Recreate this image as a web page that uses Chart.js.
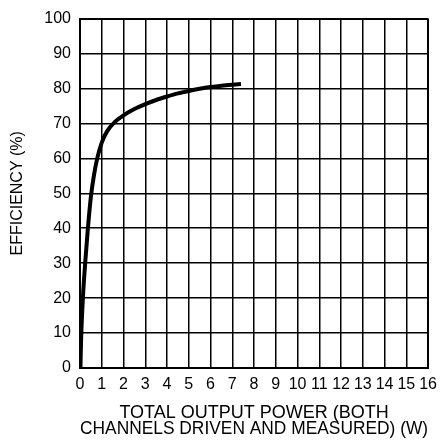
<!DOCTYPE html>
<html>
<head>
<meta charset="utf-8">
<script src="https://cdn.jsdelivr.net/npm/chart.js@4/dist/chart.umd.min.js"></script>
<style>
  html, body { margin: 0; padding: 0; background: #fff; }
  #wrap { width: 444px; height: 443px; }
</style>
</head>
<body>
<div id="wrap"><canvas id="chart" width="444" height="443"></canvas></div>
<script>
// efficiency curve
const outputPower = [0.02, 0.05, 0.1, 0.15, 0.25, 0.35, 0.5, 0.65, 0.8, 1.0, 1.25, 1.6, 2.0, 2.5, 3.0, 3.5, 4.0, 4.5, 5.0, 5.5, 6.0, 6.5, 7.0, 7.4];
const efficiency = [0, 8, 16, 22, 31, 39, 49, 55.5, 60.2, 64.5, 67.8, 70.4, 72.3, 74.1, 75.5, 76.7, 77.7, 78.6, 79.3, 79.9, 80.4, 80.8, 81.1, 81.3];

const xTitle = ["TOTAL OUTPUT POWER (BOTH", "CHANNELS DRIVEN AND MEASURED) (W)"];
const yTitle = "EFFICIENCY (%)";

const font = "'Liberation Sans', Arial, sans-serif";

const points = outputPower.map((x, i) => ({x: x, y: efficiency[i]}));

function gridWidth(ctx) {
  const v = ctx.tick ? ctx.tick.value : 0;
  return (v === 0 || v === 16 || v === 100) ? 2 : 1.5;
}

new Chart(document.getElementById("chart").getContext("2d"), {
  type: "line",
  data: {
    datasets: [{
      data: points,
      borderColor: "#000",
      borderWidth: 4,
      pointRadius: 0,
      fill: false,
      cubicInterpolationMode: "monotone"
    }]
  },
  options: {
    responsive: false,
    animation: false,
    events: [],
    layout: { padding: { top: 15, right: 12, left: 0, bottom: 0 } },
    plugins: { legend: { display: false }, tooltip: { enabled: false } },
    scales: {
      x: {
        type: "linear",
        min: 0,
        max: 16,
        afterFit: s => { s.height = 75; },
        border: { color: "#000", width: 2 },
        grid: { color: "#000", lineWidth: gridWidth, drawTicks: false },
        ticks: {
          stepSize: 1,
          autoSkip: false,
          maxRotation: 0,
          padding: 7,
          color: "#000",
          font: { family: font, size: 16 }
        },
        title: {
          display: true,
          text: xTitle,
          color: "#000",
          font: { family: font, size: 18, lineHeight: 0.9 },
          padding: { top: 0, bottom: 6 }
        }
      },
      y: {
        min: 0,
        max: 100,
        afterFit: s => { s.width = 80; },
        border: { color: "#000", width: 2 },
        grid: { color: "#000", lineWidth: gridWidth, drawTicks: false },
        ticks: {
          stepSize: 10,
          padding: 9,
          color: "#000",
          font: { family: font, size: 16 }
        },
        title: {
          display: true,
          text: yTitle,
          color: "#000",
          font: { family: font, size: 16, lineHeight: 1.2 },
          padding: { top: 8, bottom: 0 }
        }
      }
    }
  }
});
</script>
</body>
</html>
